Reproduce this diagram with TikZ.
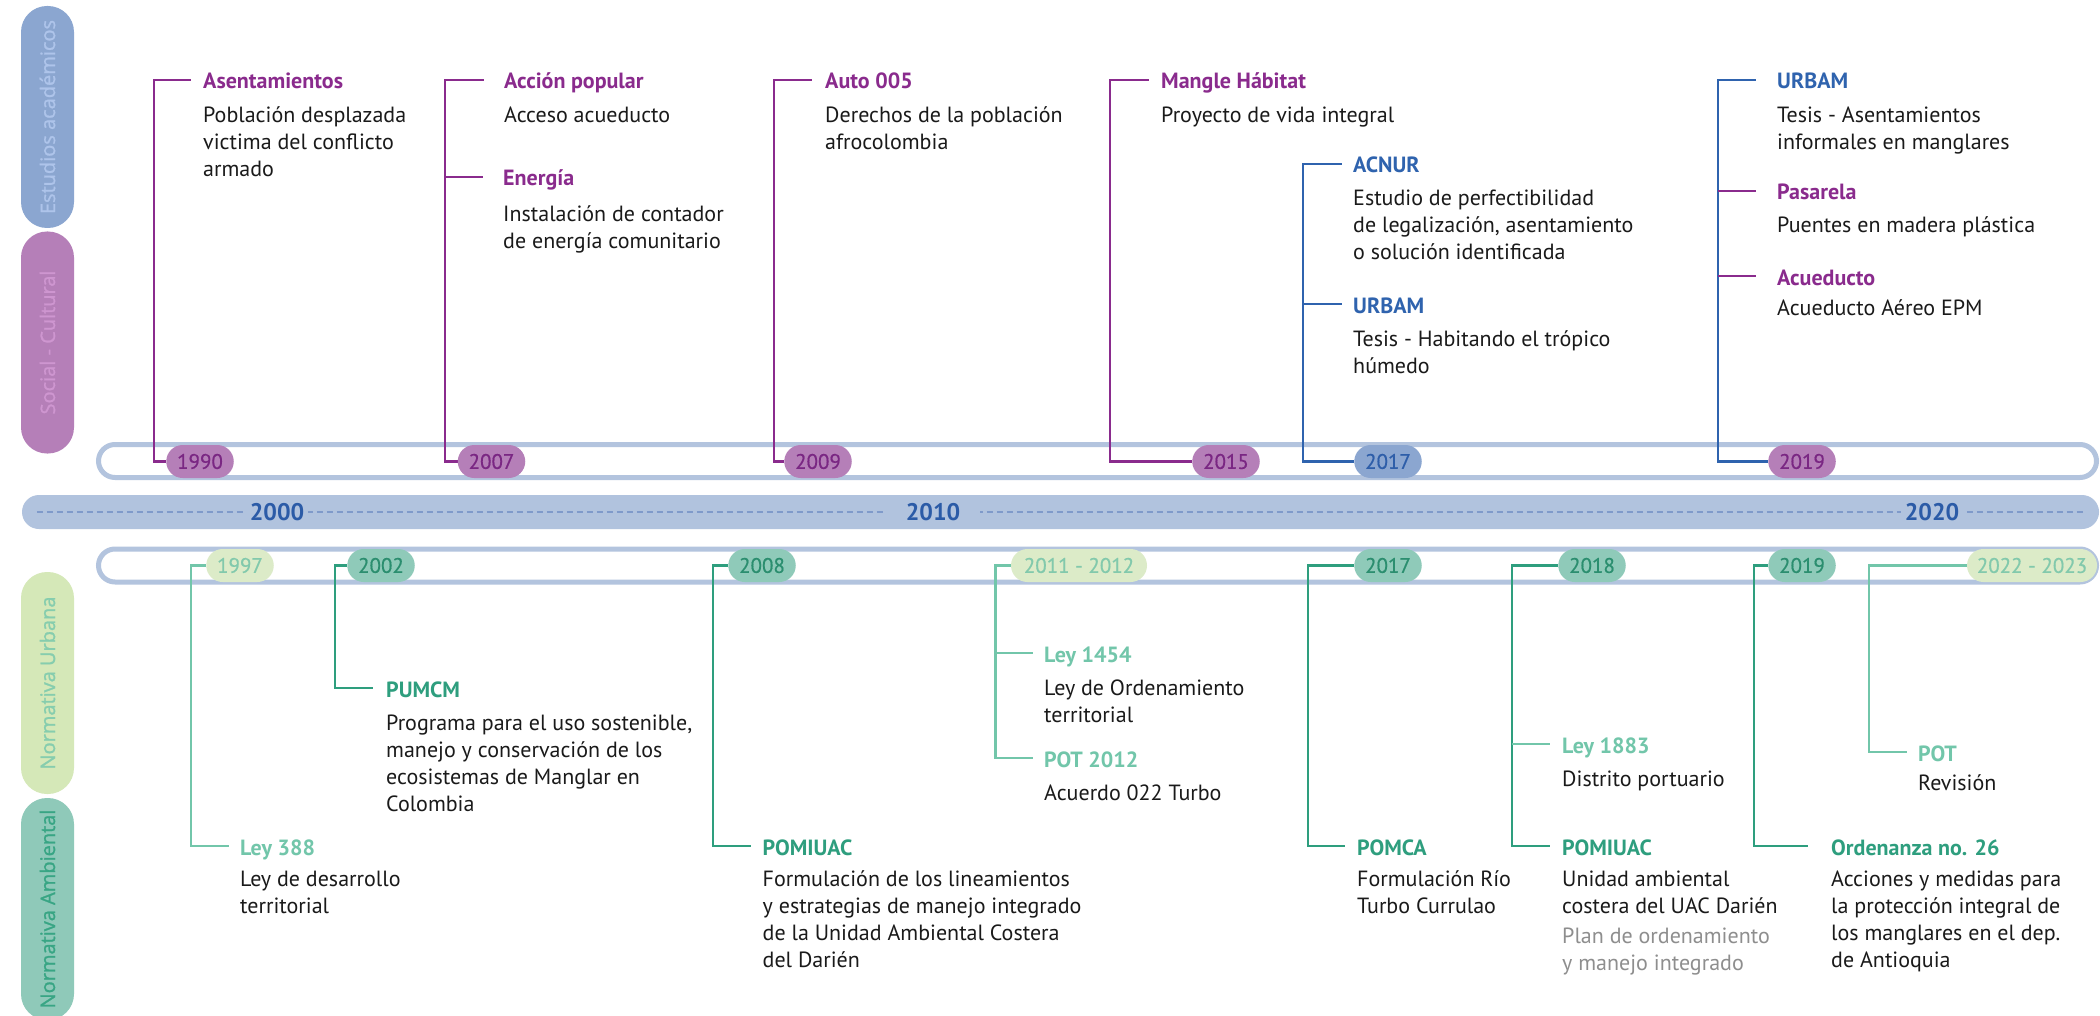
\documentclass[tikz,border=0pt]{standalone}
\usepackage{fontspec}
\setmainfont{PT Sans}
\newfontfamily\tabfont[FakeBold=1.2]{Open Sans}
\newfontfamily\pillfont[FakeBold=0.6]{PT Sans}
\definecolor{cpur}{HTML}{8A2B8D}
\definecolor{cblu}{HTML}{2F63AE}
\definecolor{cdg}{HTML}{2E9E7E}
\definecolor{clg}{HTML}{72C6AA}
\definecolor{cring}{HTML}{B3C4DE}
\definecolor{cbar}{HTML}{B1C3DE}
\definecolor{cdash}{HTML}{7F9ACA}
\definecolor{cyr}{HTML}{2B5BA7}
\definecolor{pillpur}{HTML}{B57FB8}
\definecolor{pillpurt}{HTML}{7A2783}
\definecolor{pillblu}{HTML}{8BA6D0}
\definecolor{pillblut}{HTML}{2E5EA9}
\definecolor{pilldg}{HTML}{8FCAB9}
\definecolor{pilldgt}{HTML}{2B8E6F}
\definecolor{pilllg}{HTML}{DCEBC8}
\definecolor{pilllgt}{HTML}{82C9AC}
\definecolor{tabblu}{HTML}{8BA6D0}
\definecolor{tabblut}{HTML}{AEC4EA}
\definecolor{tabpur}{HTML}{B57FB8}
\definecolor{tabpurt}{HTML}{CE96D0}
\definecolor{tabur}{HTML}{D5E8B8}
\definecolor{taburt}{HTML}{86CDAE}
\definecolor{tabam}{HTML}{8FC9B9}
\definecolor{tabamt}{HTML}{38A584}
\definecolor{ctxt}{HTML}{1A1A1A}
\definecolor{ctxtgray}{HTML}{8E8E8E}
\begin{document}
\begin{tikzpicture}[x=1pt,y=-1pt,
  conn/.style={line width=2.8pt},
  pill/.style={rounded corners=16.5pt, minimum height=33pt, minimum width=67.5pt, inner sep=0pt, font=\pillfont\fontsize{21}{24}\selectfont},
  ttl/.style={anchor=west, inner sep=0pt, text height=18pt, text depth=0pt, font=\fontsize{22}{26}\selectfont\bfseries},
  body/.style={anchor=base west, inner sep=0pt, align=left, text=ctxt, font=\fontsize{22}{27}\selectfont},
  tabbox/.style={rotate=90, rounded corners=26pt, minimum width=222pt, minimum height=53pt, inner sep=0pt, font=\tabfont\fontsize{20}{24}\selectfont},
  yrlbl/.style={fill=cbar, text=cyr, inner ysep=2pt, inner xsep=4pt, font=\fontsize{24}{28}\selectfont\bfseries},
  ringbox/.style={draw=cring, line width=5pt, rounded corners=16.5pt, minimum height=33pt, minimum width=1998pt, inner sep=0pt}
]
\useasboundingbox (0,0) rectangle (2100,1016);
\fill[white] (0,0) rectangle (2100,1016);
\clip (0,0) rectangle (2100,1016);

% side tabs
\node[tabbox, fill=tabblu, text=tabblut] (tabEA) at (47.5,117) {Estudios académicos};
\node[tabbox, fill=tabpur, text=tabpurt] (tabSC) at (47.5,342.5) {Social - Cultural};
\node[tabbox, fill=tabur, text=taburt] (tabNU) at (47.5,683) {Normativa Urbana};
\node[tabbox, fill=tabam, text=tabamt] (tabNA) at (47.5,909) {Normativa Ambiental};

% central bar
\node[fill=cbar, rounded corners=17pt, minimum width=2077pt, minimum height=34pt, inner sep=0pt] (bar) at (1060.5,512) {};
\draw[cdash, line width=2.2pt, dash pattern=on 6pt off 4pt] ([xshift=15pt]bar.west) -- ([xshift=-14pt]bar.east);
\node[yrlbl] (y2000) at (277,512) {2000};
\node[yrlbl, inner xsep=20pt] (y2010) at (933,512) {2010};
\node[yrlbl] (y2020) at (1932,512) {2020};

% rings
\node[ringbox] (ringU) at (1097.5,461) {};
\node[ringbox] (ringL) at (1097.5,565.5) {};

% ---------- titles (upper) ----------
\node[ttl, text=cpur] (tAsent) at (203,80) {Asentamientos};
\node[ttl, text=cpur] (tAccion) at (504,80) {Acción popular};
\node[ttl, text=cpur] (tEnergia) at (503,177) {Energía};
\node[ttl, text=cpur] (tAuto) at (825,80) {Auto 005};
\node[ttl, text=cpur] (tMangle) at (1161,80) {Mangle Hábitat};
\node[ttl, text=cblu] (tAcnur) at (1353,164) {ACNUR};
\node[ttl, text=cblu] (tUrbamA) at (1353,304) {URBAM};
\node[ttl, text=cblu] (tUrbamB) at (1777,80) {URBAM};
\node[ttl, text=cpur] (tPasarela) at (1777,191) {Pasarela};
\node[ttl, text=cpur] (tAcued) at (1777,276) {Acueducto};

% ---------- bodies (upper); anchor = baseline of last line ----------
\node[body] (bAsent) at (203,177) {Población desplazada\\victima del conflicto\\armado};
\node[body] (bAccion) at (504,123) {Acceso acueducto};
\node[body] (bEnergia) at (503,249) {Instalación de contador\\de energía comunitario};
\node[body] (bAuto) at (825,150) {Derechos de la población\\afrocolombia};
\node[body] (bMangle) at (1161,123) {Proyecto de vida integral};
\node[body] (bAcnur) at (1353,259) {Estudio de perfectibilidad\\de legalización, asentamiento\\o solución identificada};
\node[body] (bUrbamA) at (1353,373) {Tesis - Habitando el trópico\\húmedo};
\node[body] (bUrbamB) at (1777,150) {Tesis - Asentamientos\\informales en manglares};
\node[body] (bPasarela) at (1777,233) {Puentes en madera plástica};
\node[body] (bAcued) at (1777,315) {Acueducto Aéreo EPM};

% ---------- titles (lower) ----------
\node[ttl, text=clg] (tLey388) at (240,846) {Ley 388};
\node[ttl, text=cdg] (tPumcm) at (386,688) {PUMCM};
\node[ttl, text=cdg] (tPomA) at (762.5,846) {POMIUAC};
\node[ttl, text=clg] (tLey1454) at (1044,653) {Ley 1454};
\node[ttl, text=clg] (tPot2012) at (1044,758) {POT 2012};
\node[ttl, text=cdg] (tPomca) at (1357,846) {POMCA};
\node[ttl, text=clg] (tLey1883) at (1562,744) {Ley 1883};
\node[ttl, text=cdg] (tPomB) at (1562,846) {POMIUAC};
\node[ttl, text=cdg] (tOrden) at (1831,846) {Ordenanza no. 26};
\node[ttl, text=clg] (tPot) at (1918,752) {POT};

% ---------- bodies (lower) ----------
\node[body] (bLey388) at (240,913) {Ley de desarrollo\\territorial};
\node[body] (bPumcm) at (386,811) {Programa para el uso sostenible,\\manejo y conservación de los\\ecosistemas de Manglar en\\Colombia};
\node[body] (bPomA) at (762.5,967) {Formulación de los lineamientos\\y estrategias de manejo integrado\\de la Unidad Ambiental Costera\\del Darién};
\node[body] (bLey1454) at (1044,722) {Ley de Ordenamiento\\territorial};
\node[body] (bPot2012) at (1044,800) {Acuerdo 022 Turbo};
\node[body] (bPomca) at (1357,913) {Formulación Río\\Turbo Currulao};
\node[body] (bLey1883) at (1562,786) {Distrito portuario};
\node[body] (bPomB) at (1562,970) {Unidad ambiental\\costera del UAC Darién\\[3pt]\textcolor{ctxtgray}{Plan de ordenamiento}\\\textcolor{ctxtgray}{y manejo integrado}};
\node[body] (bOrden) at (1831,967) {Acciones y medidas para\\la protección integral de\\los manglares en el dep.\\de Antioquia};
\node[body] (bPot) at (1918,790) {Revisión};

% ---------- pill anchors ----------
\node[pill] (u1990) at (200,461.5) {\phantom{0}};
\node[pill] (u2007) at (491.5,461.5) {\phantom{0}};
\node[pill] (u2009) at (818,461.5) {\phantom{0}};
\node[pill] (u2015) at (1226,461.5) {\phantom{0}};
\node[pill] (u2017) at (1388,461.5) {\phantom{0}};
\node[pill] (u2019) at (1802,461.5) {\phantom{0}};
\node[pill] (l1997) at (240,565.5) {\phantom{0}};
\node[pill] (l2002) at (381,565.5) {\phantom{0}};
\node[pill] (l2008) at (762,565.5) {\phantom{0}};
\node[pill, minimum width=136pt] (l2011) at (1079,565.5) {\phantom{0}};
\node[pill] (l2017) at (1388,565.5) {\phantom{0}};
\node[pill] (l2018) at (1592,565.5) {\phantom{0}};
\node[pill] (l2019) at (1802,565.5) {\phantom{0}};
\node[pill, minimum width=130pt] (l2022) at (2032,565.5) {\phantom{0}};

% ---------- corner coordinates ----------
\coordinate (k1990) at (154,80);
\coordinate (k2007) at (445,80);
\coordinate (k2009) at (774,80);
\coordinate (k2015) at (1110,80);
\coordinate (k2017) at (1303,164);
\coordinate (k2019) at (1718,80);
\coordinate (k1997) at (191,846);
\coordinate (k2002) at (335,688);
\coordinate (k2008) at (713,846);
\coordinate (k2011) at (995.5,758);
\coordinate (k2017l) at (1308,846);
\coordinate (k2018) at (1512,846);
\coordinate (k2019l) at (1754,846);
\coordinate (k2022) at (1869,752);

% ---------- connectors (upper) ----------
\draw[cpur, conn, shorten >=12pt] (u1990.west) -| (k1990) -- (tAsent.west);
\draw[cpur, conn, shorten >=20pt] (u2007.west) -| (k2007) -- (tAccion.west);
\draw[cpur, conn, shorten >=20pt] (k2007 |- tEnergia.west) -- (tEnergia.west);
\draw[cpur, conn, shorten >=13pt] (u2009.west) -| (k2009) -- (tAuto.west);
\draw[cpur, conn, shorten >=12pt] (u2015.west) -| (k2015) -- (tMangle.west);
\draw[cblu, conn, shorten >=11pt] (u2017.west) -| (k2017) -- (tAcnur.west);
\draw[cblu, conn, shorten >=11pt] (k2017 |- tUrbamA.west) -- (tUrbamA.west);
\draw[cblu, conn, shorten >=21pt] (u2019.west) -| (k2019) -- (tUrbamB.west);
\draw[cpur, conn, shorten >=21pt] (k2019 |- tPasarela.west) -- (tPasarela.west);
\draw[cpur, conn, shorten >=21pt] (k2019 |- tAcued.west) -- (tAcued.west);

% ---------- connectors (lower) ----------
\draw[clg, conn, shorten >=11pt] (l1997.west) -| (k1997) -- (tLey388.west);
\draw[cdg, conn, shorten >=13pt] (l2002.west) -| (k2002) -- (tPumcm.west);
\draw[cdg, conn, shorten >=12pt] (l2008.west) -| (k2008) -- (tPomA.west);
\draw[clg, conn, shorten >=11pt] (l2011.west) -| (k2011) -- (tPot2012.west);
\draw[clg, conn, shorten >=11pt] (k2011 |- tLey1454.west) -- (tLey1454.west);
\draw[cdg, conn, shorten >=12pt] (l2017.west) -| (k2017l) -- (tPomca.west);
\draw[cdg, conn, shorten >=12pt] (l2018.west) -| (k2018) -- (tPomB.west);
\draw[clg, conn, shorten >=12pt] (k2018 |- tLey1883.west) -- (tLey1883.west);
\draw[cdg, conn, shorten >=23pt] (l2019.west) -| (k2019l) -- (tOrden.west);
\draw[clg, conn, shorten >=11pt] (l2022.west) -| (k2022) -- (tPot.west);

% ---------- pills drawn on top ----------
\node[pill, fill=pillpur, text=pillpurt] at (u1990) {1990};
\node[pill, fill=pillpur, text=pillpurt] at (u2007) {2007};
\node[pill, fill=pillpur, text=pillpurt] at (u2009) {2009};
\node[pill, fill=pillpur, text=pillpurt] at (u2015) {2015};
\node[pill, fill=pillblu, text=pillblut] at (u2017) {2017};
\node[pill, fill=pillpur, text=pillpurt] at (u2019) {2019};
\node[pill, fill=pilllg, text=pilllgt] at (l1997) {1997};
\node[pill, fill=pilldg, text=pilldgt] at (l2002) {2002};
\node[pill, fill=pilldg, text=pilldgt] at (l2008) {2008};
\node[pill, fill=pilllg, text=pilllgt, minimum width=136pt] at (l2011) {2011 - 2012};
\node[pill, fill=pilldg, text=pilldgt] at (l2017) {2017};
\node[pill, fill=pilldg, text=pilldgt] at (l2018) {2018};
\node[pill, fill=pilldg, text=pilldgt] at (l2019) {2019};
\node[pill, fill=pilllg, text=pilllgt, minimum width=130pt] at (l2022) {2022 - 2023};
\end{tikzpicture}
\end{document}
